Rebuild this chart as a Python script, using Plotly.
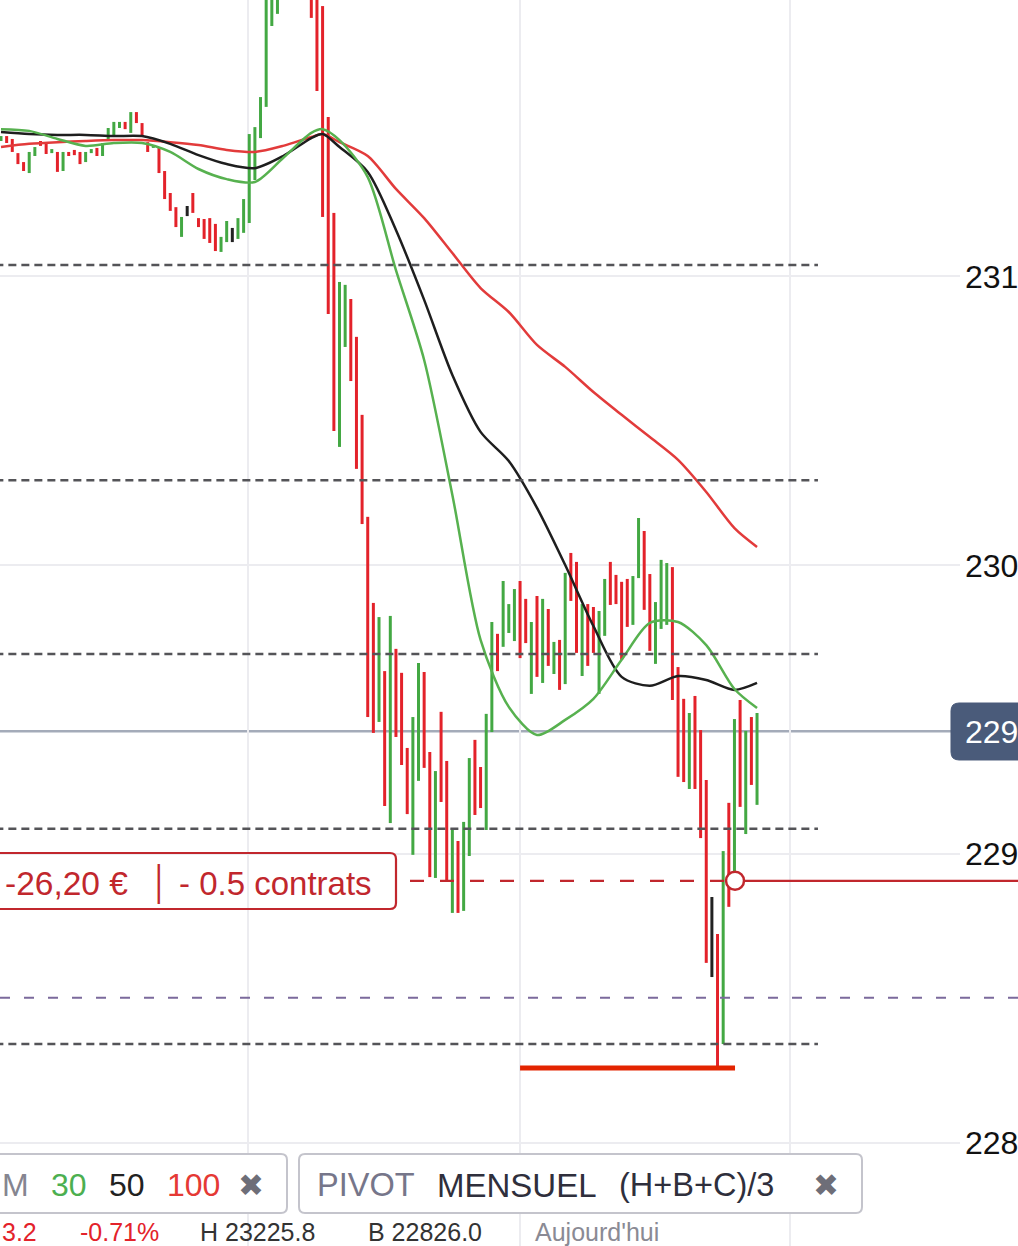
import plotly.graph_objects as go

# ---------------- data ----------------
bar_high = [23148.6, 23148.6, 23147.6, 23142.7, 23139.6, 23143.1, 23144.8, 23146.9, 23146.2, 23144.1,
            23143.1, 23143.1, 23143.1, 23143.8, 23143.1, 23143.1, 23144.1, 23144.5, 23146.2, 23151.4,
            23153.5, 23153.5, 23153.5, 23156.9, 23156.9, 23153.1, 23146.5, 23145.5, 23144.8, 23136.5,
            23128.9, 23124.0, 23120.6, 23124.4, 23128.9, 23120.2, 23119.9, 23120.2, 23118.2, 23113.7,
            23119.2, 23116.8, 23120.2, 23126.8, 23149.3, 23151.7, 23162.1, 23205.0, 23214.0, 23220.0,
            23225.8, 23224.0, 23222.0, 23220.0, 23217.0, 23213.0, 23205.0, 23193.6, 23155.2, 23122.0,
            23098.1, 23097.1, 23092.2, 23079.1, 23052.1, 23016.8, 22987.0, 22982.1, 22963.4, 22982.5,
            22971.1, 22962.8, 22936.8, 22947.5, 22966.2, 22963.1, 22935.4, 22928.8, 22949.3, 22932.3,
            22909.1, 22904.6, 22911.2, 22933.3, 22939.6, 22930.2, 22948.6, 22980.4, 22976.3, 22994.6,
            22986.6, 22991.8, 22994.6, 22988.4, 22980.4, 22989.4, 22988.4, 22984.9, 22973.5, 22974.2,
            22997.4, 23004.3, 23001.2, 22986.6, 22986.6, 22985.6, 22984.2, 22995.3, 23001.2, 22996.7,
            22994.3, 22995.3, 22996.3, 23016.4, 23011.9, 22997.0, 22987.3, 23001.9, 23000.8, 22999.4,
            22964.8, 22953.8, 22948.9, 22954.8, 22943.0, 22925.7, 22885.2, 22872.4, 22901.1, 22917.8,
            22946.8, 22953.4, 22942.7, 22947.5, 22948.9]

bar_low = [23146.9, 23146.2, 23143.1, 23138.9, 23136.5, 23135.8, 23141.7, 23145.2, 23142.4, 23142.7,
           23136.2, 23136.5, 23141.7, 23142.0, 23138.9, 23139.6, 23142.7, 23141.7, 23141.7, 23147.2,
           23148.3, 23151.4, 23151.0, 23149.7, 23153.1, 23148.3, 23143.1, 23144.5, 23135.8, 23126.8,
           23122.7, 23117.1, 23113.7, 23120.9, 23122.0, 23117.1, 23113.0, 23111.6, 23108.8, 23108.5,
           23111.9, 23111.9, 23113.0, 23115.1, 23118.5, 23133.4, 23147.9, 23158.7, 23186.7, 23190.9,
           23201.0, 23205.0, 23203.0, 23199.0, 23196.0, 23189.5, 23164.2, 23120.6, 23087.0, 23046.5,
           23041.0, 23075.6, 23063.8, 23033.4, 23014.3, 22947.5, 22942.0, 22945.8, 22916.7, 22910.8,
           22940.6, 22930.9, 22913.9, 22899.8, 22925.4, 22929.9, 22892.1, 22891.8, 22918.1, 22890.4,
           22879.7, 22879.7, 22880.4, 22899.4, 22913.6, 22916.0, 22908.4, 22942.3, 22963.4, 22971.8,
           22976.6, 22973.8, 22967.9, 22973.1, 22955.5, 22961.4, 22959.3, 22965.2, 22962.4, 22956.9,
           22958.9, 22987.7, 22969.7, 22961.7, 22965.2, 22969.7, 22955.5, 22975.6, 22986.3, 22986.6,
           22967.3, 22978.7, 22979.4, 22995.6, 22984.6, 22970.4, 22965.9, 22978.0, 22979.4, 22953.4,
           22926.8, 22925.0, 22922.6, 22922.6, 22905.6, 22862.4, 22857.5, 22826.0, 22834.3, 22881.8,
           22891.1, 22916.4, 22907.0, 22924.0, 22917.1]

# direction of each bar: G = up, R = down, K = unchanged
bar_dir = list("GRRRRGGRRGRGRRRGGRGGGGRGRRRGRRRRGKRRRRRGGKGGGGGGGGGRGRRRRRRRGGRRRRRGRGRRRGGRRGRRGRGGRRGGRGGGRRGRGRGRGRRGRRGGRRRRGGRRGGGRRRGRRRKRGRGRGRG")

ma_idx = [0, 5, 10, 15, 20, 25, 30, 35, 40, 45, 50, 55, 57, 60, 65, 70, 75, 80, 85, 90,
          95, 100, 105, 110, 115, 120, 125, 130, 134]
ma30 = [23151.0, 23150.4, 23147.6, 23145.2, 23146.2, 23146.2, 23143.1, 23137.2, 23133.7, 23132.7,
        23141.0, 23149.7, 23151.0, 23147.2, 23134.4, 23102.2, 23071.1, 23024.4, 22974.2, 22951.0,
        22941.3, 22946.5, 22953.8, 22967.3, 22980.1, 22980.4, 22972.4, 22957.2, 22950.6]
ma50 = [23150.0, 23149.3, 23149.0, 23149.0, 23148.6, 23148.6, 23145.9, 23142.0, 23138.9, 23137.5,
        23141.7, 23147.9, 23149.3, 23144.8, 23136.2, 23116.1, 23091.9, 23065.9, 23046.2, 23036.1,
        23019.9, 23000.1, 22979.0, 22961.4, 22958.3, 22961.7, 22960.3, 22956.9, 22959.3]
ma100 = [23144.8, 23145.9, 23146.5, 23146.9, 23147.2, 23147.2, 23146.5, 23145.5, 23143.8, 23143.1,
         23145.2, 23148.3, 23149.3, 23146.5, 23141.7, 23130.3, 23120.2, 23108.1, 23096.0, 23087.7,
         23076.3, 23068.7, 23060.0, 23052.1, 23044.4, 23036.5, 23025.4, 23012.9, 23006.4]

pivot_levels = [23104.0, 23029.5, 22969.3, 22908.8, 22834.3]
pivot_mid = 22850.3          # purple dashed level
last_price = 22942.6
price_tag = "229"
position_price = 22890.8
position_bar = 130.1
day_high = 23225.8
day_low = 22826.0
low_mark_from = 92.0
y_ticks = [22800, 22900, 23000, 23100, 23200]
y_tick_text = ["228", "229", "230", "231", "232"]
time_grid = [43.8, 92.0, 139.8]

pnl_text = "-26,20 €"
size_text = "- 0.5 contrats"
change_pts = "3.2"
change_pct = "-0.71%"

# ---------------- layout constants ----------------
W, H = 1018, 1246
PLOT_W = 960
BAR_PX = 5.642
FONT = "Liberation Sans, Arial, sans-serif"
RED = "#e3222a"
GREEN = "#43a843"
BLACK = "#222222"
POS_RED = "#c1272d"


def xp(px):
    return px / PLOT_W


def yp(py):
    return 1 - py / H


def rrect(x0, y0, x1, y1, r):
    pts = [
        ("M", [(x0 + r, y0)]), ("L", [(x1 - r, y0)]), ("Q", [(x1, y0), (x1, y0 + r)]),
        ("L", [(x1, y1 - r)]), ("Q", [(x1, y1), (x1 - r, y1)]), ("L", [(x0 + r, y1)]),
        ("Q", [(x0, y1), (x0, y1 - r)]), ("L", [(x0, y0 + r)]), ("Q", [(x0, y0), (x0 + r, y0)]),
    ]
    s = ""
    for cmd, ps in pts:
        s += cmd + " " + " ".join(f"{xp(a):.5f},{yp(b):.5f}" for a, b in ps) + " "
    return s + "Z"


fig = go.Figure()

# bars (high-low segments) grouped by colour
colors = {"G": GREEN, "R": RED, "K": BLACK}
for key, col in colors.items():
    xs, ys = [], []
    for i, (h, l, d) in enumerate(zip(bar_high, bar_low, bar_dir)):
        if d == key:
            xs += [i, i, None]
            ys += [h, l, None]
    fig.add_trace(go.Scatter(x=xs, y=ys, mode="lines", line=dict(color=col, width=3),
                             hoverinfo="skip", showlegend=False))

# moving averages
for vals, col in [(ma100, "#e23b3b"), (ma50, "#1e1e1e"), (ma30, "#57b14f")]:
    fig.add_trace(go.Scatter(x=ma_idx, y=vals, mode="lines",
                             line=dict(color=col, width=2.5, shape="spline", smoothing=0.8),
                             hoverinfo="skip", showlegend=False))

pos_px = 1 + position_bar * BAR_PX

shapes = []
# last price line
shapes.append(dict(type="line", xref="paper", yref="y", x0=0, x1=xp(952), y0=last_price, y1=last_price,
                   line=dict(color="#a4abb9", width=2.5), layer="below"))
# pivot lines
for lv in pivot_levels:
    shapes.append(dict(type="line", xref="x", yref="y", x0=-1, x1=144.8, y0=lv, y1=lv,
                       line=dict(color="#545458", width=2.5, dash="8px,5px"), layer="above"))
shapes.append(dict(type="line", xref="paper", yref="y", x0=0, x1=xp(1030), y0=pivot_mid, y1=pivot_mid,
                   line=dict(color="#7b6a9c", width=2, dash="10px,14px"), layer="above"))
# low marker
shapes.append(dict(type="line", xref="x", yref="y", x0=low_mark_from, x1=position_bar, y0=day_low, y1=day_low,
                   line=dict(color="#e32400", width=5), layer="above"))
# position line
shapes.append(dict(type="line", xref="paper", yref="y", x0=xp(410), x1=xp(pos_px - 9),
                   y0=position_price, y1=position_price,
                   line=dict(color=POS_RED, width=2.2, dash="14px,16px"), layer="above"))
shapes.append(dict(type="line", xref="paper", yref="y", x0=xp(pos_px + 9), x1=xp(1030),
                   y0=position_price, y1=position_price, line=dict(color=POS_RED, width=2.2), layer="above"))
# position box
shapes.append(dict(type="path", xref="paper", yref="paper", path=rrect(-20, 853, 396, 909, 6),
                   line=dict(color=POS_RED, width=2.2), fillcolor="rgba(0,0,0,0)", layer="above"))
# price label box
shapes.append(dict(type="path", xref="paper", yref="paper", path=rrect(951, 703, 1040, 760, 8),
                   line=dict(color="#4a5b7a", width=1), fillcolor="#4a5b7a", layer="above"))
# legend boxes
shapes.append(dict(type="path", xref="paper", yref="paper", path=rrect(-20, 1154, 287, 1213, 6),
                   line=dict(color="#c4c4cc", width=2), fillcolor="white", layer="above"))
shapes.append(dict(type="path", xref="paper", yref="paper", path=rrect(299, 1154, 862, 1213, 6),
                   line=dict(color="#c4c4cc", width=2), fillcolor="white", layer="above"))

# position circle
fig.add_trace(go.Scatter(x=[position_bar], y=[position_price], mode="markers",
                         marker=dict(size=18, color="white", line=dict(color=POS_RED, width=2.5)),
                         hoverinfo="skip", showlegend=False))

ann = []


def txt(text, px, py, color, size, anchor="middle", family=FONT):
    ann.append(dict(text=text, x=xp(px), y=yp(py), xref="paper", yref="paper", xanchor="left",
                    yanchor=anchor, showarrow=False, font=dict(family=family, size=size, color=color)))


txt(pnl_text, 3, 883, POS_RED, 33.5)
txt("│", 148, 883, POS_RED, 33)
txt(size_text, 177, 883, POS_RED, 33)
txt(price_tag, 963, 732, "white", 32)

txt("M", 0, 1185, "#858590", 32)
txt("30", 49, 1185, "#4caf50", 32)
txt("50", 107, 1185, "#222222", 32)
txt("100", 165, 1185, "#e53935", 32)
txt("✖", 236, 1185, "#6e6e78", 31, family="DejaVu Sans")
txt("PIVOT", 315, 1185, "#76768a", 32.5)
txt("MENSUEL", 435, 1185, "#2f2f3c", 33)
txt("(H+B+C)/3", 617, 1185, "#2f2f3c", 32.5)
txt("✖", 811, 1185, "#6e6e78", 31, family="DejaVu Sans")

txt(change_pts, 0, 1216, RED, 25, anchor="top")
txt(change_pct, 78, 1216, RED, 25, anchor="top")
txt(f"H {day_high:.1f}", 198, 1216, "#333333", 25, anchor="top")
txt(f"B {day_low:.1f}", 366, 1216, "#333333", 25, anchor="top")
txt("Aujourd'hui", 533, 1216, "#8a8a94", 25, anchor="top")

a = -1 / BAR_PX
b = a + PLOT_W / BAR_PX
fig.update_layout(
    template="none",
    width=W, height=H,
    margin=dict(l=0, r=W - PLOT_W, t=0, b=0, pad=0),
    paper_bgcolor="white", plot_bgcolor="white",
    showlegend=False,
    shapes=shapes, annotations=ann,
    xaxis=dict(range=[a, b], tickvals=time_grid, showticklabels=False, ticks="",
               showgrid=True, gridcolor="#ececf0", gridwidth=2, zeroline=False,
               showline=False, automargin=False, fixedrange=True),
    yaxis=dict(range=[22764.4, 23195.7], side="right", tickvals=y_ticks, ticktext=y_tick_text, ticks="",
               tickfont=dict(family=FONT, size=32, color="#111111"), ticklabelstandoff=4,
               showgrid=True, gridcolor="#ececf0", gridwidth=2, zeroline=False,
               showline=False, automargin=False, fixedrange=True),
)

fig.write_html("out.html", config={"displayModeBar": False},
               post_script="document.body.style.margin='0';document.body.style.overflow='hidden';")
